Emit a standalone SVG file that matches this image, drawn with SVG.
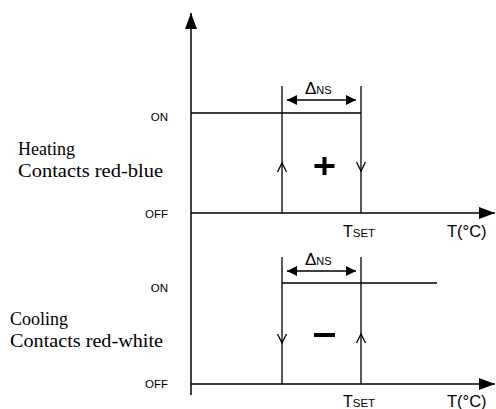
<svg xmlns="http://www.w3.org/2000/svg" width="496" height="409" viewBox="0 0 496 409">
<defs>
<style>
.ln{stroke:#000;stroke-width:1.3;fill:none}
.ax{stroke:#000;stroke-width:1.5;fill:none}
.sa{font-family:"Liberation Sans",Arial,sans-serif;fill:#000}
.se{font-family:"Liberation Serif","Times New Roman",serif;fill:#000;font-size:18px}
.st{font-size:11.5px}
</style>
<marker id="ah" viewBox="0 0 10 10" refX="10" refY="5" markerWidth="10" markerHeight="10" markerUnits="userSpaceOnUse" orient="auto-start-reverse"><path d="M0,0 L10,5 L0,10 z" fill="#000"/></marker>
<marker id="big" viewBox="0 0 16 12" refX="16" refY="6" markerWidth="16" markerHeight="12" markerUnits="userSpaceOnUse" orient="auto"><path d="M0,0 L16,6 L0,12 z" fill="#000"/></marker>
</defs>
<rect width="496" height="409" fill="#fff"/>
<g id="axes">
<line class="ax" x1="191" y1="395" x2="191" y2="13" marker-end="url(#big)"/>
<line class="ax" x1="191" y1="213" x2="495" y2="213" marker-end="url(#big)"/>
<line class="ax" x1="191" y1="384" x2="495" y2="384" marker-end="url(#big)"/>
</g>
<g id="heating">
<line class="ln" x1="191" y1="113" x2="361" y2="113"/>
<line class="ln" x1="282" y1="86" x2="282" y2="213"/>
<line class="ln" x1="361" y1="86" x2="361" y2="213"/>
<line class="ln" x1="287" y1="100" x2="356" y2="100" marker-start="url(#ah)" marker-end="url(#ah)"/>
<path class="ln" d="M277.5,172 L282,163 L286.5,172"/>
<path class="ln" d="M356.5,162 L361,171 L365.5,162"/>
<path d="M314.5,166 H334.5 M324.5,157 V175" stroke="#000" stroke-width="4"/>
<text class="sa" x="305" y="94" font-size="17">Δ<tspan font-size="11">NS</tspan></text>
</g>
<g id="cooling">
<line class="ln" x1="282" y1="283" x2="437" y2="283"/>
<line class="ln" x1="282" y1="257" x2="282" y2="384"/>
<line class="ln" x1="361" y1="257" x2="361" y2="384"/>
<line class="ln" x1="287" y1="271" x2="356" y2="271" marker-start="url(#ah)" marker-end="url(#ah)"/>
<path class="ln" d="M277.5,334 L282,343 L286.5,334"/>
<path class="ln" d="M356.5,343 L361,334 L365.5,343"/>
<line x1="314" y1="335" x2="335" y2="335" stroke="#000" stroke-width="4"/>
<text class="sa" x="305" y="265" font-size="17">Δ<tspan font-size="11">NS</tspan></text>
</g>
<g id="labels">
<text class="sa st" x="168" y="121" text-anchor="end">ON</text>
<text class="sa st" x="168" y="218" text-anchor="end">OFF</text>
<text class="sa st" x="168" y="292" text-anchor="end">ON</text>
<text class="sa st" x="168" y="388" text-anchor="end">OFF</text>
<text class="se" x="18" y="155">Heating</text>
<text class="se" x="18" y="177" textLength="145" lengthAdjust="spacingAndGlyphs">Contacts red-blue</text>
<text class="se" x="10" y="325">Cooling</text>
<text class="se" x="10" y="347" textLength="153" lengthAdjust="spacingAndGlyphs">Contacts red-white</text>
<text class="sa" x="343" y="237" font-size="16">T<tspan font-size="11.5">SET</tspan></text>
<text class="sa" x="447" y="237" font-size="16.5">T(°C)</text>
<text class="sa" x="343" y="407" font-size="16">T<tspan font-size="11.5">SET</tspan></text>
<text class="sa" x="447" y="407" font-size="16.5">T(°C)</text>
</g>
</svg>
